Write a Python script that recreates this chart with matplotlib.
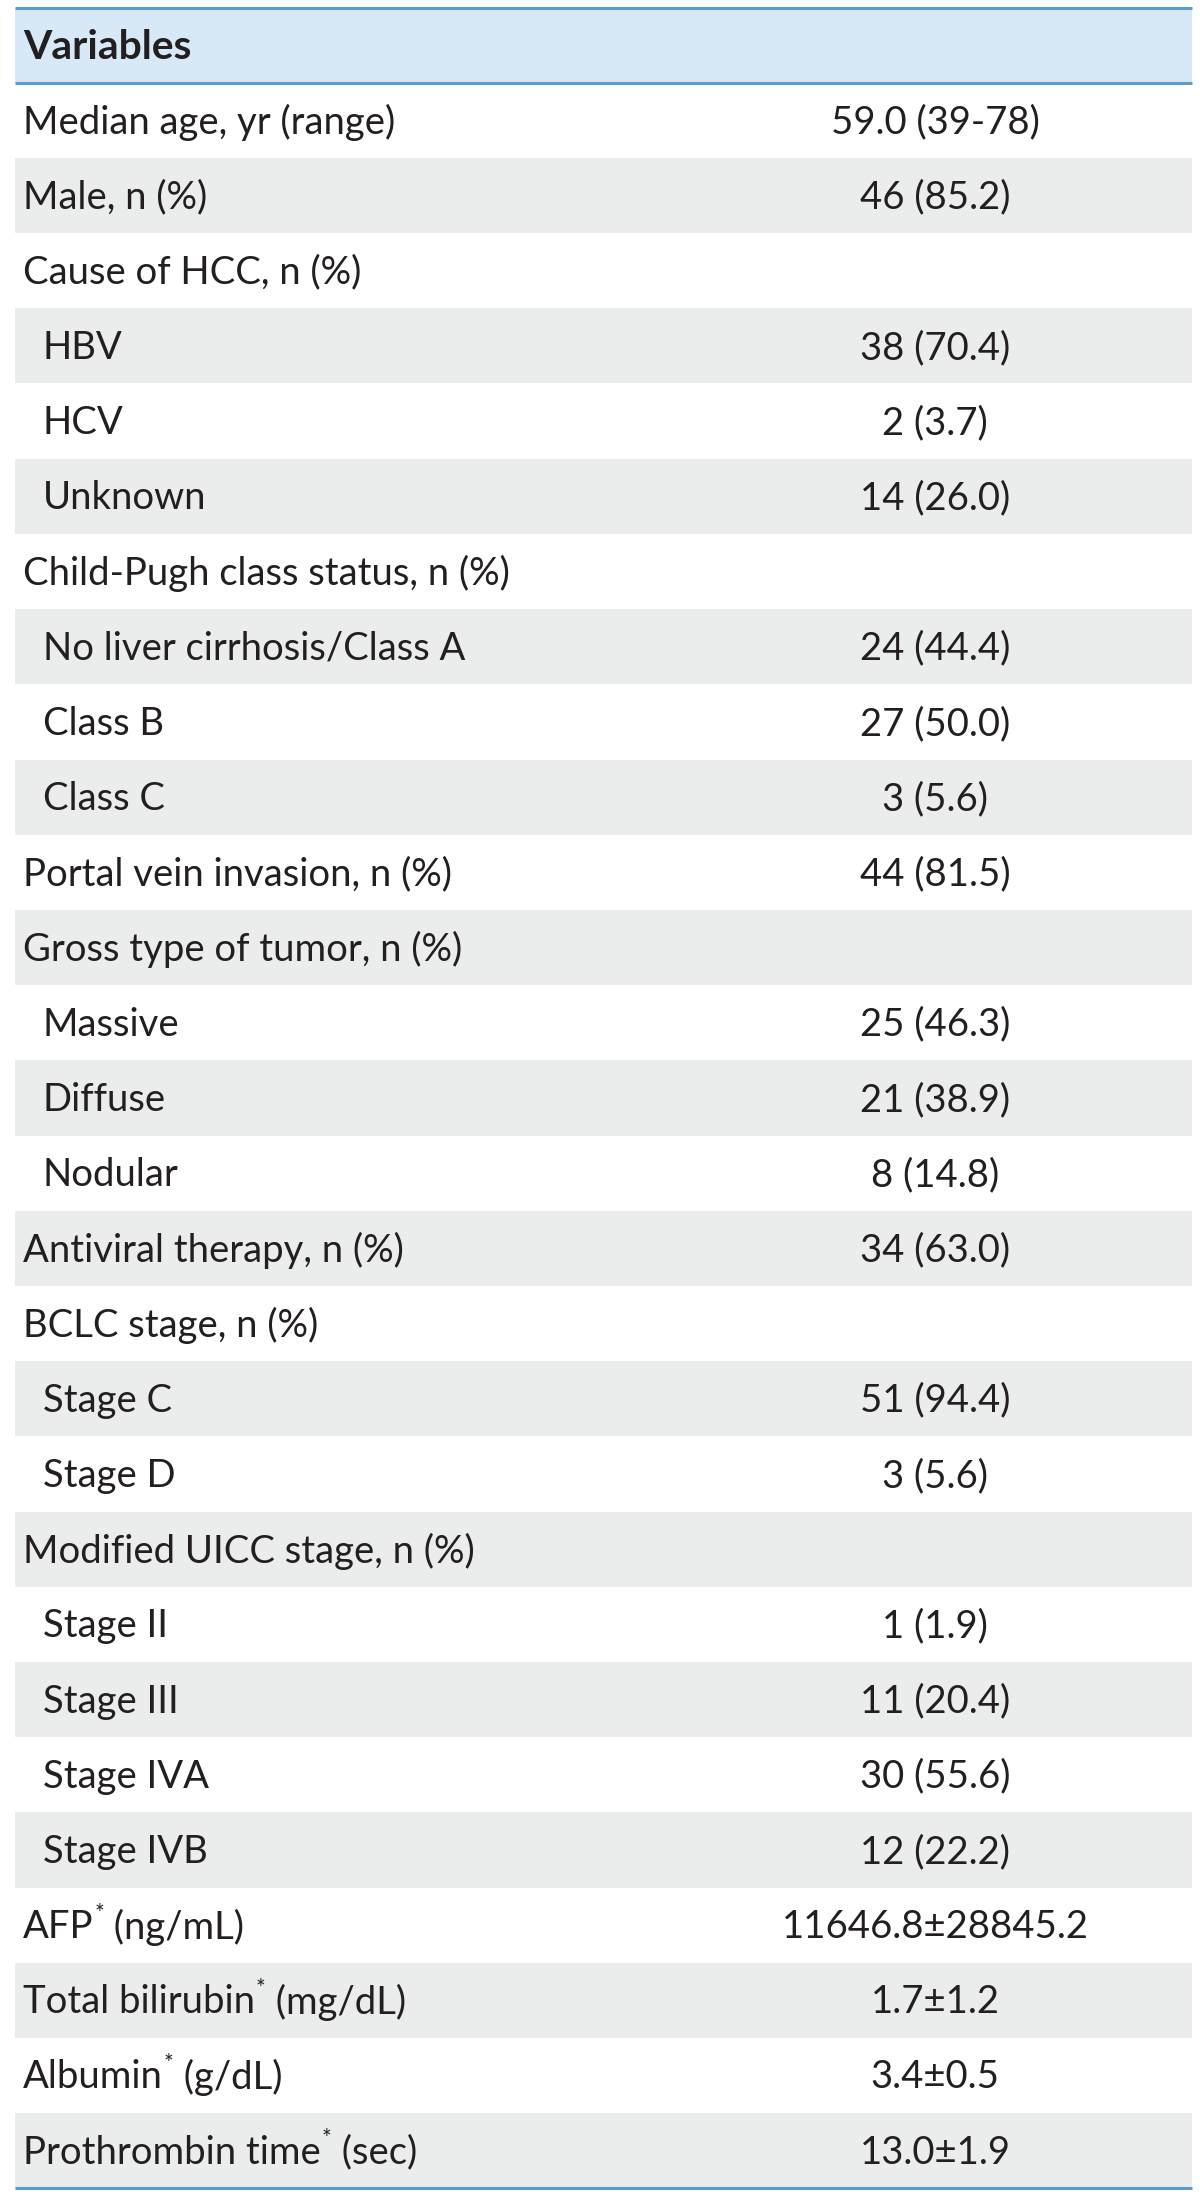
import matplotlib
matplotlib.use("Agg")
import matplotlib.pyplot as plt
from matplotlib.patches import Rectangle

header = "Variables"
labels = [
    "Median age, yr (range)", "Male, n (%)", "Cause of HCC, n (%)", "HBV", "HCV", "Unknown",
    "Child-Pugh class status, n (%)", "No liver cirrhosis/Class A", "Class B", "Class C",
    "Portal vein invasion, n (%)", "Gross type of tumor, n (%)", "Massive", "Diffuse", "Nodular",
    "Antiviral therapy, n (%)", "BCLC stage, n (%)", "Stage C", "Stage D",
    "Modified UICC stage, n (%)", "Stage II", "Stage III", "Stage IVA", "Stage IVB",
    "AFP", "Total bilirubin", "Albumin", "Prothrombin time",
]
units = ["", "", "", "", "", "", "", "", "", "", "", "", "", "", "", "", "", "", "", "", "", "", "", "",
         " (ng/mL)", " (mg/dL)", " (g/dL)", " (sec)"]
starred = [False] * 24 + [True, True, True, True]
indent = [False, False, False, True, True, True, False, True, True, True, False, False, True, True, True,
          False, False, True, True, False, True, True, True, True, False, False, False, False]
values = [
    "59.0 (39-78)", "46 (85.2)", "", "38 (70.4)", "2 (3.7)", "14 (26.0)", "",
    "24 (44.4)", "27 (50.0)", "3 (5.6)", "44 (81.5)", "", "25 (46.3)", "21 (38.9)", "8 (14.8)",
    "34 (63.0)", "", "51 (94.4)", "3 (5.6)", "", "1 (1.9)", "11 (20.4)", "30 (55.6)", "12 (22.2)",
    "11646.8\u00b128845.2", "1.7\u00b11.2", "3.4\u00b10.5", "13.0\u00b11.9",
]

W, H = 1200, 2199
fig = plt.figure(figsize=(W / 100, H / 100), dpi=100)
ax = fig.add_axes([0, 0, 1, 1])
ax.set_xlim(0, W)
ax.set_ylim(H, 0)
ax.axis("off")

FONT = ["Lato", "DejaVu Sans"]
FS = 27.5
WT = "normal"
TXT = "#231f20"
left, right = 15, 1192
top = 7.5
row_h = 75.2
val_x = 935

# header
ax.add_patch(Rectangle((left, top), right - left, row_h, facecolor="#d7e9f7", edgecolor="none"))
ax.text(left + 8, top + row_h / 2 + 2, header, fontsize=FS * 1.07, fontweight="bold", family=FONT,
        color=TXT, va="center", ha="left")

fig.canvas.draw()
renderer = fig.canvas.get_renderer()
inv = ax.transData.inverted()

for i, lab in enumerate(labels):
    y0 = top + row_h * (i + 1)
    if i % 2 == 1:
        ax.add_patch(Rectangle((left, y0), right - left, row_h, facecolor="#ebeded", edgecolor="none"))
    yc = y0 + row_h / 2 + 2
    x = left + (28 if indent[i] else 8)
    t = ax.text(x, yc, lab, fontsize=FS, family=FONT, fontweight=WT, color=TXT, va="center", ha="left")
    if starred[i]:
        bb = t.get_window_extent(renderer=renderer)
        x1 = inv.transform((bb.x1, bb.y0))[0]
        s = ax.text(x1 + 1, yc - 14, "*", fontsize=FS * 0.6, family=FONT, fontweight=WT,
                    color=TXT, va="center", ha="left")
        bb2 = s.get_window_extent(renderer=renderer)
        x2 = inv.transform((bb2.x1, bb2.y0))[0]
        ax.text(x2, yc, units[i], fontsize=FS, family=FONT, fontweight=WT, color=TXT,
                va="center", ha="left")
    if values[i]:
        ax.text(val_x, yc, values[i], fontsize=FS, family=FONT, fontweight=WT, color=TXT,
                va="center", ha="center")

line_c = "#5b9bd5"
bottom = top + row_h * (len(labels) + 1)
for yy in (top, top + row_h, bottom):
    ax.plot([left, right], [yy, yy], color=line_c, lw=2.2, solid_capstyle="butt")

fig.savefig("out.png", dpi=100, facecolor="white")
